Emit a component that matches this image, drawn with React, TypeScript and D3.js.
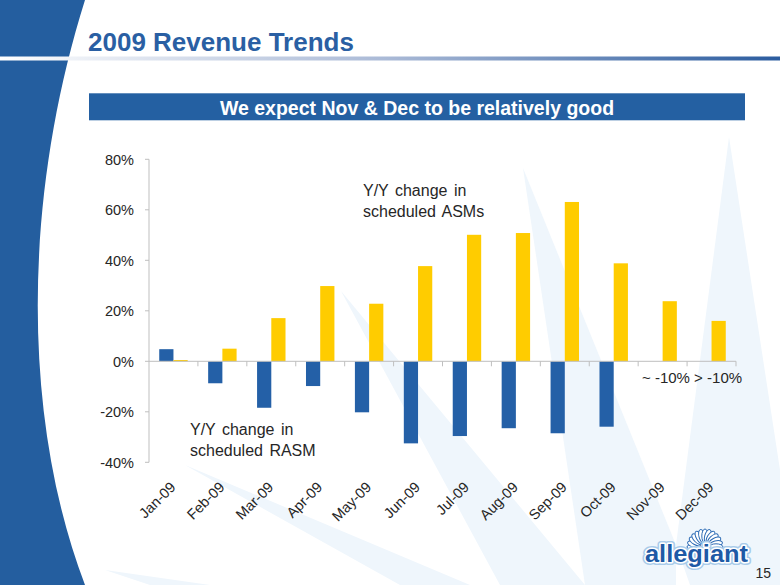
import React from "react";
import * as d3 from "d3";

const months = ["Jan-09","Feb-09","Mar-09","Apr-09","May-09","Jun-09","Jul-09","Aug-09","Sep-09","Oct-09","Nov-09","Dec-09"];
const rasm: (number | null)[] = [4.8, -8.7, -18.4, -9.8, -20.2, -32.5, -29.6, -26.5, -28.5, -25.9, null, null];
const asms: number[] = [0.5, 5.0, 17.1, 29.8, 22.8, 37.7, 50.1, 50.8, 63.1, 38.8, 23.8, 16.0];
const yTicks = [-40, -20, 0, 20, 40, 60, 80];
const seriesKeys = ["rasm", "asm"];

const W = 780, H = 585;
const FONT = "'Liberation Sans', Arial, sans-serif";
const BLUE = "#2460A7";
const YELLOW = "#FFCC00";
const AXIS = "#BFBFBF";

export default function App() {
  const x = d3.scaleBand<string>().domain(months).range([149, 736]).padding(0);
  const inner = d3.scaleBand<string>().domain(seriesKeys).range([0, x.bandwidth()]).paddingInner(0).paddingOuter(0.72);
  const y = d3.scaleLinear().domain([-40, 80]).range([462.3, 159.3]);
  const y0 = y(0);

  const rays: [number, number][][] = [
    [[729, 137], [676, 545], [690, 585], [780, 585], [780, 470]],
    [[523, 168], [585, 585], [676, 585], [676, 545]],
    [[341, 291], [500, 585], [585, 585]],
    [[185, 465], [400, 585], [470, 585]],
    [[105, 570], [150, 585], [210, 585]],
  ];
  const line = d3.line();

  const petals = d3.range(13).map((i) => -180 + (i * 180) / 12);

  return (
    <svg width={W} height={H} style={{ position: "absolute", left: 0, top: 0, background: "#fff" }} fontFamily={FONT}>
      <defs>
        <linearGradient id="tl" x1="0" x2="1" y1="0" y2="0">
          <stop offset="0" stopColor="#ffffff" />
          <stop offset="0.15" stopColor="#E4E9F2" />
          <stop offset="0.5" stopColor="#A9B9D6" />
          <stop offset="1" stopColor="#2B5C9F" />
        </linearGradient>
      </defs>
      {rays.map((r, i) => (
        <path key={i} d={line(r)! + "Z"} fill="#EFF6FC" />
      ))}
      {/* left blue shape */}
      <path d="M0,0 L85,0 C22,200 22,420 85,585 L0,585 Z" fill="#245E9F" />
      {/* title line */}
      <rect x={0} y={56.5} width={W} height={4} fill="url(#tl)" />
      <text x={88} y={51} fontSize={26} fontWeight="bold" fill="#2A5FA3">2009 Revenue Trends</text>
      <rect x={89} y={93.3} width={656} height={27} fill="#2460A2" />
      <text x={417} y={114.5} fontSize={19.5} fontWeight="bold" fill="#fff" textAnchor="middle">We expect Nov &amp; Dec to be relatively good</text>

      {/* y axis */}
      <line x1={149} x2={149} y1={y(80)} y2={y(-40)} stroke={AXIS} strokeWidth={1} />
      {yTicks.map((t) => (
        <g key={t}>
          <line x1={145} x2={149} y1={y(t)} y2={y(t)} stroke={AXIS} />
          <text x={134} y={y(t)} dy="0.36em" textAnchor="end" fontSize={14.5} fill="#262626">{t}%</text>
        </g>
      ))}

      {/* bars */}
      {months.map((m, i) => {
        const cx = x(m)!;
        const r = rasm[i];
        const a = asms[i];
        return (
          <g key={m}>
            {r !== null && (
              <rect x={cx + inner("rasm")!} width={inner.bandwidth()} y={Math.min(y(r), y0)} height={Math.abs(y(r) - y0)} fill={BLUE} />
            )}
            <rect x={cx + inner("asm")!} width={inner.bandwidth()} y={Math.min(y(a), y0)} height={Math.abs(y(a) - y0)} fill={YELLOW} />
          </g>
        );
      })}

      {/* x axis */}
      <line x1={149} x2={736} y1={y0} y2={y0} stroke={AXIS} />
      {months.map((m) => (
        <line key={m} x1={x(m)! + x.bandwidth()} x2={x(m)! + x.bandwidth()} y1={y0} y2={y0 + 5} stroke={AXIS} />
      ))}
      {months.map((m) => {
        const cx = x(m)! + x.bandwidth() / 2;
        return (
          <text key={m} transform={`translate(${cx + 3},${488}) rotate(-45)`} textAnchor="end" fontSize={14.5} fill="#262626">{m}</text>
        );
      })}

      {/* annotations */}
      <text x={363} y={196} fontSize={16} fill="#262626" wordSpacing={2}>
        <tspan x={363}>Y/Y change in</tspan>
        <tspan x={363} dy={20.5}>scheduled ASMs</tspan>
      </text>
      <text x={190} y={435} fontSize={16} fill="#262626" wordSpacing={2}>
        <tspan x={190}>Y/Y change in</tspan>
        <tspan x={190} dy={20.5}>scheduled RASM</tspan>
      </text>
      <text x={642} y={383} fontSize={15} fill="#262626">~ -10% &gt; -10%</text>

      {/* logo */}
      <g>
        {petals.map((a, i) => {
          const rad = (a * Math.PI) / 180;
          const px = 705 + Math.cos(rad) * 11;
          const py = 547 + Math.sin(rad) * 11;
          return (
            <ellipse key={i} cx={px} cy={py} rx={3.2} ry={7} transform={`rotate(${a + 90},${px},${py})`} fill="#fff" stroke="#2C6BB5" strokeWidth={1} />
          );
        })}
        <circle cx={705} cy={548} r={5} fill="#FFC20E" />
        <text x={645} y={562} fontSize={23} fontWeight="bold" textLength={103} lengthAdjust="spacingAndGlyphs" fill="#1E5AA6" stroke="#A8CBEA" strokeWidth={6} strokeLinejoin="round">allegiant</text>
        <text x={645} y={562} fontSize={23} fontWeight="bold" textLength={103} lengthAdjust="spacingAndGlyphs" fill="#1E5AA6" stroke="#fff" strokeWidth={3} strokeLinejoin="round">allegiant</text>
        <text x={645} y={562} fontSize={23} fontWeight="bold" textLength={103} lengthAdjust="spacingAndGlyphs" fill="#1E5AA6">allegiant</text>
      </g>
      <text x={771} y={578} fontSize={14} fill="#262626" textAnchor="end">15</text>
    </svg>
  );
}
